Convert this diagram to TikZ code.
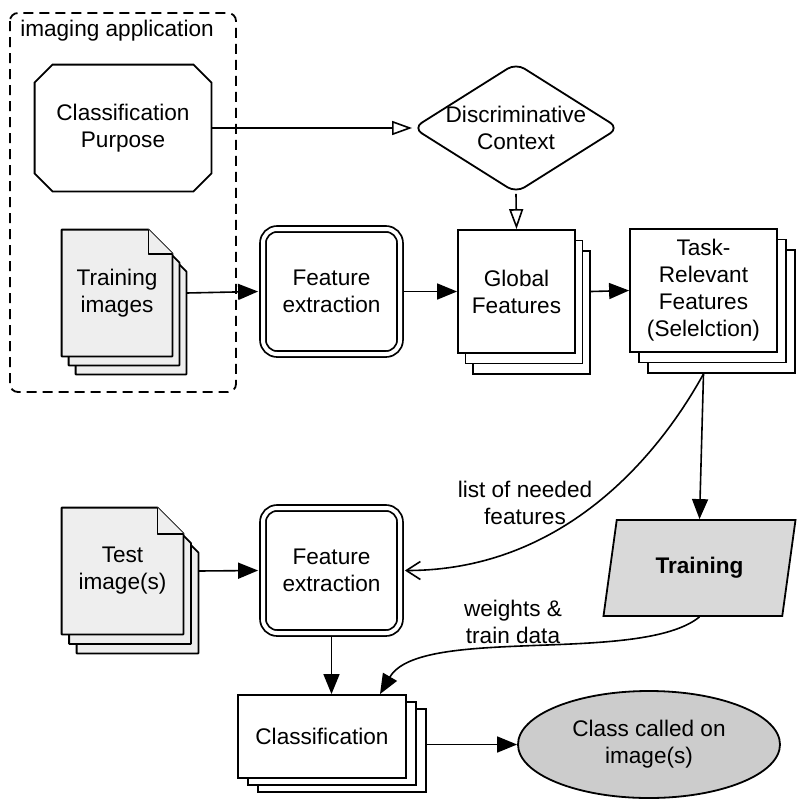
\documentclass[tikz,border=0pt]{standalone}
\usepackage{fontspec}
\setmainfont{Liberation Sans}
\usetikzlibrary{shapes.geometric,shadows,arrows.meta,backgrounds}

\definecolor{docgray}{HTML}{EEEEEE}
\definecolor{trgray}{HTML}{D9D9D9}
\definecolor{resgray}{HTML}{CCCCCC}

\tikzset{
  every node/.style={font=\fontsize{11.3}{13.5}\selectfont, align=center},
  box/.style={draw, line width=0.9pt, fill=white},
  dblbox/.style={draw, line width=0.9pt, double, double distance=2pt, rounded corners=7pt,
    minimum width=68.5pt, minimum height=62.5pt},
  docpage/.style={draw, line width=0.9pt, fill=docgray, line join=round},
  arr/.style={-{Triangle[length=10pt,width=8pt]}, line width=0.8pt},
  openarr/.style={-{Triangle[open,length=10pt,width=7pt]}, line width=0.8pt},
  barb/.style={-{Straight Barb[length=7pt,width=9pt]}, line width=0.8pt}
}

\begin{document}
\begin{tikzpicture}[x=0.5pt,y=-0.5pt]
\useasboundingbox (0,0) rectangle (800,810);

% imaging application frame
\draw[dashed, dash pattern=on 5pt off 3pt, line width=0.9pt, rounded corners=4pt] (10,13) rectangle (236,392);
\node (applbl) at (117,31) {imaging application};

\node[minimum width=88pt, minimum height=63pt] (purpose) at (123,128) {Classification\\Purpose};
\draw[line width=0.9pt] ([xshift=9pt]purpose.north west) -- ([xshift=-9pt]purpose.north east)
  -- ([yshift=-9pt]purpose.north east) -- ([yshift=9pt]purpose.south east)
  -- ([xshift=-9pt]purpose.south east) -- ([xshift=9pt]purpose.south west)
  -- ([yshift=9pt]purpose.south west) -- ([yshift=-9pt]purpose.north west) -- cycle;

\node[box, diamond, inner sep=0pt, rounded corners=5pt, minimum width=103pt, minimum height=65pt] (context) at (516,128) {};
\node (ctxtext) at (context) {Discriminative\\Context};

% top row
\node[minimum width=55pt, minimum height=63pt, inner sep=0pt] (train) at (117,293) {Training\\images};
\node[dblbox, fill=white] (fe1) at (331.5,291.5) {Feature\\extraction};
\node[box, double copy shadow={opacity=1, shadow xshift=3.75pt, shadow yshift=-5.25pt},
  minimum width=58.5pt, minimum height=61.5pt] (global) at (516.5,291.5) {Global\\Features};
\node[box, double copy shadow={opacity=1, shadow xshift=4.5pt, shadow yshift=-5.25pt},
  minimum width=73.5pt, minimum height=61.5pt] (task) at (703.5,290.5) {Task-\\Relevant\\Features\\(Selelction)};

% bottom part
\node[minimum width=60.5pt, minimum height=63pt, inner sep=0pt] (test) at (122.5,571) {Test\\image(s)};
\node[dblbox, fill=white] (fe2) at (331.5,570.5) {Feature\\extraction};
\node[draw, line width=0.9pt, fill=trgray, trapezium, trapezium left angle=69, trapezium right angle=111,
  trapezium stretches body, minimum width=96pt, minimum height=48pt] (training) at (699.5,568) {\textbf{Training}};
\node[box, double copy shadow={opacity=1, shadow xshift=5pt, shadow yshift=-3.5pt},
  minimum width=84pt, minimum height=41.5pt] (classify) at (322,736.5) {Classification};
\node[draw, line width=0.9pt, fill=resgray, ellipse, minimum width=131pt, minimum height=53.5pt] (result) at (649,744.5) {Class called on\\image(s)};

% document stacks
\begin{scope}[on background layer]
  \foreach \k in {2,1,0}{
    \draw[docpage] ([shift={(\k*7,\k*9)}]train.north west) -- ([shift={(\k*7-24,\k*9)}]train.north east)
      -- ([shift={(\k*7,\k*9+24)}]train.north east) -- ([shift={(\k*7,\k*9)}]train.south east)
      -- ([shift={(\k*7,\k*9)}]train.south west) -- cycle;
    \draw[docpage] ([shift={(\k*7.5,\k*9.5)}]test.north west) -- ([shift={(\k*7.5-26,\k*9.5)}]test.north east)
      -- ([shift={(\k*7.5,\k*9.5+26)}]test.north east) -- ([shift={(\k*7.5,\k*9.5)}]test.south east)
      -- ([shift={(\k*7.5,\k*9.5)}]test.south west) -- cycle;
  }
  \draw[docpage] ([xshift=-12pt]train.north east) -- ++(0,24) -- ++(24,0);
  \draw[docpage] ([xshift=-13pt]test.north east) -- ++(0,26) -- ++(26,0);
\end{scope}

% connectors
\draw[openarr] (purpose.east) -- (context.west);
\draw[openarr] (context.south) -- (global.north);
\draw[arr] ([xshift=7pt]train.east) -- ([xshift=-2pt]fe1.west);
\draw[arr] ([xshift=1.5pt]fe1.east) -- (global.west);
\draw[arr] ([xshift=7.5pt]global.east) -- (task.west);
\draw[arr] ([yshift=-10.5pt]task.south) -- (training.north);
\draw[barb] ([yshift=-10.5pt]task.south) .. controls +(-48,87) and +(155,0) .. ([xshift=2pt]fe2.east);
\node (listlbl) at (525,503) {list of needed\\features};
\draw[arr] ([xshift=7.5pt]test.east) -- ([xshift=-2pt]fe2.west);
\draw[arr] ([yshift=-1.5pt]fe2.south) -- (fe2.south |- classify.north);
\draw[arr] (training.south) .. controls (640,665) and (420,625) .. ([xshift=29pt]classify.north);
\node (wlbl) at (513,622) {weights \&\\train data};
\draw[arr] ([xshift=10pt]classify.east |- result.west) -- (result.west);

\end{tikzpicture}
\end{document}
